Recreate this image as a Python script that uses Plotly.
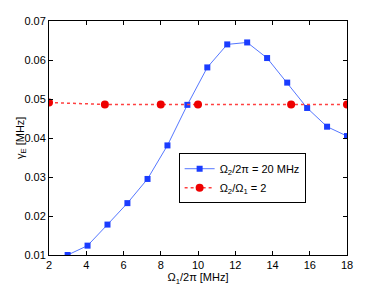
import plotly.graph_objects as go

blue_x = [3, 4.07, 5.14, 6.21, 7.29, 8.36, 9.43, 10.5, 11.57, 12.64, 13.71, 14.79, 15.86, 16.93, 18]
blue_y = [0.0100, 0.0124, 0.0178, 0.0233, 0.0295, 0.0381, 0.0485, 0.0581, 0.0640, 0.0645,
          0.0605, 0.0542, 0.0477, 0.0429, 0.0405]
red_x = [2, 5, 8, 10, 15, 18]
red_y = [0.0491, 0.0486, 0.0486, 0.0486, 0.0486, 0.0486]

x_ticks = [2, 4, 6, 8, 10, 12, 14, 16, 18]
y_ticks = [0.01, 0.02, 0.03, 0.04, 0.05, 0.06, 0.07]

fig = go.Figure()
fig.add_trace(go.Scatter(
    x=blue_x, y=blue_y, mode="lines+markers",
    name="Ω<sub>2</sub>/2π = 20 MHz",
    line=dict(color="#5577ff", width=1),
    marker=dict(symbol="square", size=6, color="#1a3cff"),
))
fig.add_trace(go.Scatter(
    x=red_x, y=red_y, mode="lines+markers",
    name="Ω<sub>2</sub>/Ω<sub>1</sub> = 2",
    line=dict(color="#ff4040", width=1.5, dash="dot"),
    marker=dict(symbol="circle", size=8, color="#ee0000"),
))

axis_common = dict(
    showgrid=False, zeroline=False, showline=True, linecolor="black", linewidth=1,
    mirror="ticks", ticks="inside", ticklen=4, tickcolor="black",
    tickfont=dict(size=11, color="black"), automargin=False,
)
fig.update_layout(
    width=374, height=279,
    margin=dict(l=41, r=35, t=13, b=32),
    paper_bgcolor="white", plot_bgcolor="white",
    font=dict(family="Liberation Sans, Arial, sans-serif", size=11, color="black"),
    showlegend=True,
    legend=dict(
        x=0.435, y=0.435, xanchor="left", yanchor="top",
        bordercolor="black", borderwidth=1, bgcolor="white",
        font=dict(size=11), tracegroupgap=0,
    ),
    xaxis=dict(range=[2, 18], tickvals=x_ticks, ticktext=[str(v) for v in x_ticks],
               title=dict(text="Ω<sub>1</sub>/2π [MHz]", standoff=1, font=dict(size=11)),
               **axis_common),
    yaxis=dict(range=[0.01, 0.07], tickvals=y_ticks, ticktext=[f"{v:.2f}" for v in y_ticks],
               **axis_common),
    annotations=[dict(
        text="γ<sub>E</sub> [MHz]", textangle=-90, showarrow=False,
        xref="paper", yref="paper", x=-0.094, y=0.5, xanchor="center", yanchor="middle",
        font=dict(size=11),
    )],
)
fig.write_html("out.html")
